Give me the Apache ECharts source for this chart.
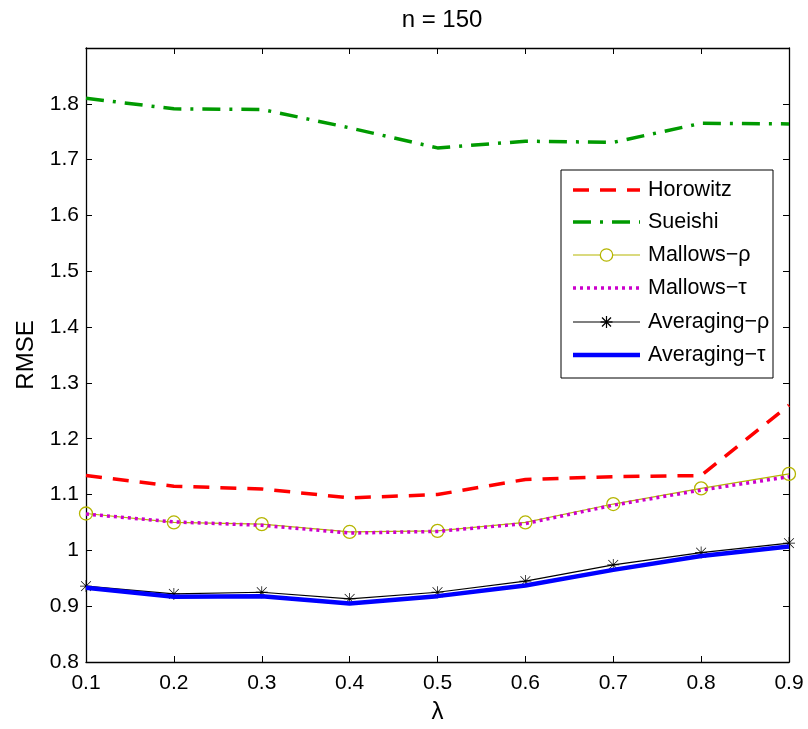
<!DOCTYPE html>
<html>
<head>
<meta charset="utf-8">
<script src="https://cdn.jsdelivr.net/npm/echarts@6/dist/echarts.min.js"></script>
<style>html,body{margin:0;padding:0;background:#fff;}#c{width:808px;height:729px;}</style>
</head>
<body>
<div id="c"></div>
<script>
const lambdas = [0.1, 0.2, 0.3, 0.4, 0.5, 0.6, 0.7, 0.8, 0.9];
const horowitz = [1.134, 1.115, 1.110, 1.094, 1.100, 1.127, 1.132, 1.134, 1.260];
const sueishi = [1.810, 1.791, 1.790, 1.757, 1.721, 1.733, 1.731, 1.765, 1.764];
const mallowsRho = [1.066, 1.050, 1.047, 1.033, 1.035, 1.050, 1.083, 1.111, 1.137];
const mallowsTau = [1.065, 1.051, 1.045, 1.031, 1.034, 1.048, 1.081, 1.108, 1.132];
const averagingRho = [0.936, 0.922, 0.925, 0.913, 0.925, 0.945, 0.974, 0.996, 1.013];
const averagingTau = [0.933, 0.917, 0.918, 0.905, 0.918, 0.937, 0.965, 0.990, 1.007];
const seriesNames = ['Horowitz','Sueishi','Mallows−ρ','Mallows−τ','Averaging−ρ','Averaging−τ'];
const xTicks = [0.1, 0.2, 0.3, 0.4, 0.5, 0.6, 0.7, 0.8, 0.9];
const yTicks = [0.8, 0.9, 1, 1.1, 1.2, 1.3, 1.4, 1.5, 1.6, 1.7, 1.8];

const FONT = 'Liberation Sans, Arial, sans-serif';
const star = 'path://M9.4 0 L10.6 0 L10.6 20 L9.4 20 Z M0 9.4 L20 9.4 L20 10.6 L0 10.6 Z M2.2 1.4 L18.6 17.8 L17.8 18.6 L1.4 2.2 Z M17.8 1.4 L18.6 2.2 L2.2 18.6 L1.4 17.8 Z';

const styles = [
  {color: '#ff0000', width: 3.5, dash: [16, 11]},
  {color: '#009a00', width: 3.5, dash: [18, 9, 3, 9]},
  {color: '#b5b500', width: 1.2, dash: null, marker: 'circle'},
  {color: '#cc00cc', width: 3.5, dash: [3, 4]},
  {color: '#000000', width: 1.2, dash: null, marker: 'star'},
  {color: '#0000ff', width: 4.5, dash: null}
];
const dataSets = [horowitz, sueishi, mallowsRho, mallowsTau, averagingRho, averagingTau];

function pairs(arr){ return lambdas.map((x,i)=>[x, arr[i]]); }

const chart = echarts.init(document.getElementById('c'), null, {renderer:'canvas'});
const fmtY = v => { const r = Math.round(v*10)/10; return yTicks.some(t=>Math.abs(t-r)<1e-9) ? (Number.isInteger(r)? String(r) : r.toFixed(1)) : ''; };
const fmtX = v => { const r = Math.round(v*10)/10; return xTicks.some(t=>Math.abs(t-r)<1e-9) ? r.toFixed(1) : ''; };

const series = seriesNames.map((name, i) => {
  const s = styles[i];
  const o = {name, type: 'line', data: pairs(dataSets[i]), z: 2 + i,
    lineStyle: {color: s.color, width: s.width, type: s.dash || 'solid'}};
  if (s.marker === 'circle') {
    o.symbol = 'circle'; o.symbolSize = 13;
    o.itemStyle = {color: 'rgba(0,0,0,0)', borderColor: s.color, borderWidth: 1.3};
  } else if (s.marker === 'star') {
    o.symbol = star; o.symbolSize = 12;
    o.itemStyle = {color: s.color};
  } else {
    o.showSymbol = false; o.symbol = 'none';
    o.itemStyle = {color: s.color};
  }
  return o;
});

// legend drawn as graphic elements
const LX = 561, LY = 170, LW = 212, LH = 208;
const rowY = [190, 222, 255, 288, 322, 355];
const legendEls = [{type: 'rect', shape: {x: LX, y: LY, width: LW, height: LH},
  style: {fill: '#fff', stroke: '#000', lineWidth: 1}, z: 100}];
seriesNames.forEach((name, i) => {
  const s = styles[i], y = rowY[i];
  legendEls.push({type: 'line', shape: {x1: 573, y1: y, x2: 640, y2: y},
    style: {stroke: s.color, lineWidth: s.width, lineDash: s.dash || null}, z: 101});
  if (s.marker === 'circle') {
    legendEls.push({type: 'circle', shape: {cx: 606.5, cy: y, r: 6.2},
      style: {fill: '#fff', stroke: s.color, lineWidth: 1.3}, z: 102});
  } else if (s.marker === 'star') {
    const cx = 606.5, r = 6;
    [[0, -r, 0, r], [-r, 0, r, 0], [-r*0.75, -r*0.75, r*0.75, r*0.75], [r*0.75, -r*0.75, -r*0.75, r*0.75]].forEach(d => {
      legendEls.push({type: 'line', shape: {x1: cx + d[0], y1: y + d[1], x2: cx + d[2], y2: y + d[3]},
        style: {stroke: '#000', lineWidth: 1.2}, z: 102});
    });
  }
  legendEls.push({type: 'text', x: 648, y: y, z: 102,
    style: {text: name, font: '21.5px ' + FONT, fill: '#000', textVerticalAlign: 'middle', verticalAlign: 'middle'}});
});

chart.setOption({
  animation: false,
  backgroundColor: '#fff',
  title: {
    text: 'n = 150', left: 437, top: 3, textAlign: 'center',
    textStyle: {fontFamily: FONT, fontSize: 24, fontWeight: 'normal', color: '#000'}
  },
  grid: {left: 86, right: 19, top: 48, bottom: 65, containLabel: false},
  xAxis: [{
    type: 'value', min: 0.1, max: 0.9, interval: 0.1,
    name: 'λ', nameLocation: 'middle', nameGap: 38,
    nameTextStyle: {fontFamily: FONT, fontSize: 24, color: '#000'},
    axisLine: {show: true, lineStyle: {color: '#000', width: 1.3}},
    axisTick: {show: true, inside: true, length: 6, lineStyle: {color: '#000'}},
    axisLabel: {fontFamily: FONT, fontSize: 21, color: '#000', margin: 11, formatter: fmtX},
    splitLine: {show: false}
  },{
    type: 'value', min: 0.1, max: 0.9, interval: 0.1, position: 'top',
    axisLine: {show: true, lineStyle: {color: '#000', width: 1.3}},
    axisTick: {show: true, inside: true, length: 6, lineStyle: {color: '#000'}},
    axisLabel: {show: false}, splitLine: {show: false}
  }],
  yAxis: [{
    type: 'value', min: 0.8, max: 1.9, interval: 0.1,
    name: 'RMSE', nameLocation: 'middle', nameGap: 48, nameRotate: 90,
    nameTextStyle: {fontFamily: FONT, fontSize: 24, color: '#000'},
    axisLine: {show: true, lineStyle: {color: '#000', width: 1.3}},
    axisTick: {show: true, inside: true, length: 6, lineStyle: {color: '#000'}},
    axisLabel: {fontFamily: FONT, fontSize: 21, color: '#000', margin: 7, formatter: fmtY},
    splitLine: {show: false}
  },{
    type: 'value', min: 0.8, max: 1.9, interval: 0.1, position: 'right',
    axisLine: {show: true, lineStyle: {color: '#000', width: 1.3}},
    axisTick: {show: true, inside: true, length: 6, lineStyle: {color: '#000'}},
    axisLabel: {show: false}, splitLine: {show: false}
  }],
  graphic: {elements: legendEls},
  series
});
</script>
</body>
</html>
